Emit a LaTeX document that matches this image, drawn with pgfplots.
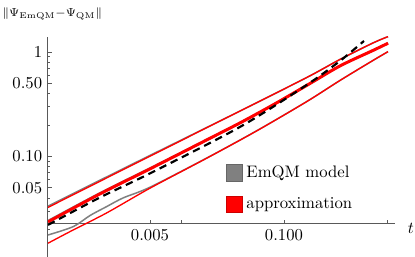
\documentclass[border=0pt]{standalone}
\usepackage{pgfplots}
\pgfplotsset{compat=1.18}
\definecolor{axgray}{gray}{0.35}
\definecolor{emgray}{gray}{0.5}
\definecolor{emgrayd}{gray}{0.4}
\begin{document}
\begin{tikzpicture}
\useasboundingbox (-28.8pt,0pt) rectangle (220.2pt,154.2pt);
\begin{axis}[
  xmode=log, ymode=log,
  scale only axis, width=208.2pt, height=132pt,
  xmin=0.000512, xmax=1.196, ymin=0.0109, ymax=1.39,
  axis lines=left,
  axis line style={-, draw=axgray, line width=0.6pt},
  axis x line shift=-19.8pt,
  tick align=inside,
  major tick length=2.4pt, minor tick length=1.4pt,
  tick style={draw=axgray, line width=0.5pt},
  xtick={0.005,0.01,0.1,1}, xticklabels={0.005,,0.100,},
  ytick={0.05,0.1,0.5,1}, yticklabels={0.05,0.10,0.50,1},
  minor ytick={0.02,0.03,0.04,0.06,0.07,0.08,0.09,0.2,0.3,0.4,0.6,0.7,0.8,0.9},
  minor xtick={},
  clip mode=individual,
  legend cell align=left,
  legend style={at={(axis description cs:0.511,0.431)}, anchor=north west, draw=none, fill=none, row sep=6.5pt, inner sep=0pt, font=\normalsize},
]
% EmQM model (gray)
\addplot[emgray, line width=0.9pt, smooth, forget plot] coordinates {
(0.000512,0.0334) (0.0019,0.0637) (0.005,0.1022) (0.0374,0.2719) (0.1662,0.5689) (0.3499,0.8477) (0.7316,1.219) (1.0233,1.401)};
\addplot[emgray, line width=1.2pt, smooth, forget plot] coordinates {
(0.000512,0.0242) (0.001637,0.0446) (0.005,0.0770) (0.01777,0.1438) (0.0374,0.2092) (0.0782,0.3111) (0.1662,0.478) (0.3499,0.7348) (0.7316,1.0337) (1.0233,1.2114)};
\addplot[emgray, line width=0.9pt, smooth, forget plot] coordinates {
(0.000512,0.0177) (0.000901,0.0213) (0.00131,0.0272) (0.0019,0.0331) (0.00275,0.0401) (0.005,0.0507) (0.01777,0.0965) (0.0543,0.1760) (0.1662,0.3350) (0.3499,0.5336) (0.7316,0.8292) (1.0233,1.0066)};
% approximation (red)
\addplot[red, line width=0.8pt, smooth, forget plot] coordinates {
(0.000512,0.03251) (0.0019,0.06226) (0.005,0.1004) (0.0374,0.2719) (0.1662,0.5689) (0.3499,0.8477) (0.7316,1.219) (1.0233,1.401)};
\addplot[red, line width=1.8pt, smooth, forget plot] coordinates {
(0.000512,0.0236) (0.001637,0.0438) (0.005,0.0760) (0.01777,0.1438) (0.0374,0.2092) (0.0782,0.3111) (0.1662,0.478) (0.3499,0.7348) (0.7316,1.0337) (1.0233,1.2114)};
\addplot[red, line width=0.8pt, smooth, forget plot] coordinates {
(0.000512,0.01477) (0.000901,0.01980) (0.0019,0.02879) (0.005,0.04963) (0.01777,0.0961) (0.0543,0.1754) (0.1662,0.3345) (0.3499,0.5336) (0.7316,0.8292) (1.0233,1.0066)};
% power-law guide (black dashed)
\addplot[black, line width=1.3pt, dash pattern=on 4.5pt off 3pt, smooth, forget plot] coordinates {
(0.000512,0.02211) (0.001637,0.0405) (0.005,0.0688) (0.0374,0.1915) (0.1662,0.4833) (0.3499,0.8202) (0.598,1.274)};
% legend entries
\addlegendimage{legend image code/.code={\draw[fill=emgray, draw=emgrayd, line width=0.5pt] (0pt,-5pt) rectangle (10pt,5pt);}}
\addlegendentry{EmQM model}
\addlegendimage{legend image code/.code={\draw[fill=red, draw=red!80!black, line width=0.5pt] (0pt,-5pt) rectangle (10pt,5pt);}}
\addlegendentry{approximation}
\node[anchor=west, inner sep=0pt] at (axis description cs:0,1) [xshift=-27.6pt, yshift=13.8pt] {\fontsize{7.2}{8.5}\selectfont$\|\Psi_{\mathrm{EmQM}}\mathord{-}\Psi_{\mathrm{QM}}\|$};
\node at (axis description cs:1,0) [xshift=9.6pt, yshift=17.4pt] {$t$};
\end{axis}
\end{tikzpicture}
\end{document}
